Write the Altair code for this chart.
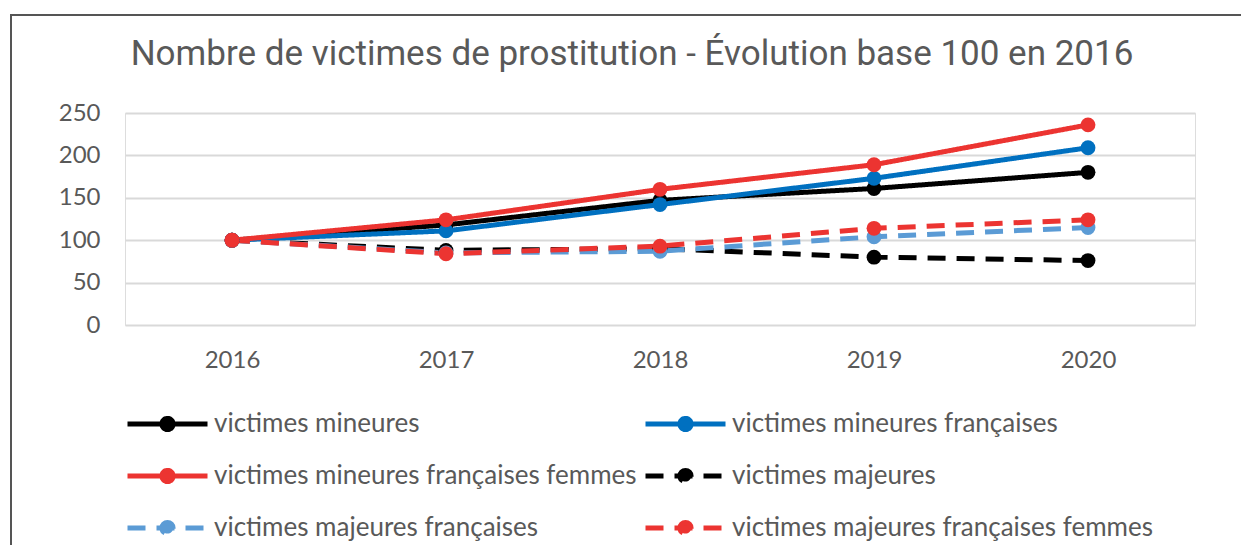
import altair as alt
import pandas as pd

years = ["2016", "2017", "2018", "2019", "2020"]

series_names = [
    "victimes mineures",
    "victimes mineures françaises",
    "victimes mineures françaises femmes",
    "victimes majeures",
    "victimes majeures françaises",
    "victimes majeures françaises femmes",
]
series_colors = ["#000000", "#0070C0", "#EC3431", "#000000", "#5B9BD5", "#EC3431"]
series_dashes = [[1, 0], [1, 0], [1, 0], [18, 11], [18, 11], [18, 11]]

mineures = [100, 118, 147, 161, 180]
mineures_fr = [100, 111, 142, 173, 209]
mineures_fr_femmes = [100, 124, 160, 189, 236]
majeures = [100, 88, 90, 80, 76]
majeures_fr = [100, 85, 87, 104, 115]
majeures_fr_femmes = [100, 84, 93, 114, 124]

y_ticks = [0, 50, 100, 150, 200, 250]

all_values = [mineures, mineures_fr, mineures_fr_femmes, majeures, majeures_fr, majeures_fr_femmes]
draw_order = [3, 0, 4, 1, 5, 2]

rows = []
for i in draw_order:
    for yr, v in zip(years, all_values[i]):
        rows.append({"annee": yr, "valeur": v, "serie": series_names[i], "ordre": draw_order.index(i)})
df = pd.DataFrame(rows)

label_font = "Lato"
grey = "#595959"

x_enc = alt.X(
    "annee:O",
    scale=alt.Scale(domain=years),
    axis=alt.Axis(
        title=None, labelAngle=0, domain=False, ticks=False, grid=False,
        labelFontSize=24, labelColor=grey, labelFont=label_font, labelPadding=23,
    ),
)
y_enc = alt.Y(
    "valeur:Q",
    scale=alt.Scale(domain=[0, 250], nice=False),
    axis=alt.Axis(
        title=None, values=y_ticks, domain=False, ticks=False, grid=True,
        gridColor="#D9D9D9", gridWidth=2, labelFontSize=24, labelColor=grey,
        labelFont=label_font, labelPadding=25,
    ),
)

symbol_path = "M-1,0L1,0M-0.14,0A0.14,0.14,0,1,1,0.14,0A0.14,0.14,0,1,1,-0.14,0Z"

color_enc = alt.Color(
    "serie:N",
    scale=alt.Scale(domain=series_names, range=series_colors),
    legend=alt.Legend(
        title=None, orient="none", legendX=0, legendY=299, columns=2,
        direction="horizontal",
        symbolType=symbol_path, symbolSize=6400, symbolStrokeWidth=5,
        clipHeight=24, rowPadding=26, columnPadding=6, labelOffset=4,
        labelFontSize=26, labelFont=label_font, labelColor=grey,
        symbolOffset=0, labelLimit=0,
    ),
)
dash_enc = alt.StrokeDash(
    "serie:N",
    scale=alt.Scale(domain=series_names, range=series_dashes),
    legend=None,
)

lines = alt.Chart(df).mark_line(strokeWidth=5).encode(
    x=x_enc, y=y_enc, color=color_enc, strokeDash=dash_enc,
    order=alt.Order("ordre:Q"),
)
points = alt.Chart(df).mark_circle(size=220, opacity=1).encode(
    x=x_enc, y=y_enc, color=color_enc,
)

frame = alt.Chart(df).mark_rect(fill=None, stroke="#555555", strokeWidth=2).encode(
    x=alt.value(-114), x2=alt.value(1300), y=alt.value(-98), y2=alt.value(700),
)

chart = alt.layer(frame, lines, points).properties(
    width=1070,
    height=212,
    title=alt.TitleParams(
        "Nombre de victimes de prostitution - Évolution base 100 en 2016",
        font="Roboto", fontSize=35, fontWeight="normal", color=grey,
        anchor="middle", dx=-28, dy=62,
    ),
    autosize=alt.AutoSizeParams(type="none"),
    padding={"left": 125, "top": 113, "right": 46, "bottom": 220},
).configure_view(stroke=None).configure(background="white")

chart.save("out.html", embed_options={"renderer": "svg", "actions": False})
